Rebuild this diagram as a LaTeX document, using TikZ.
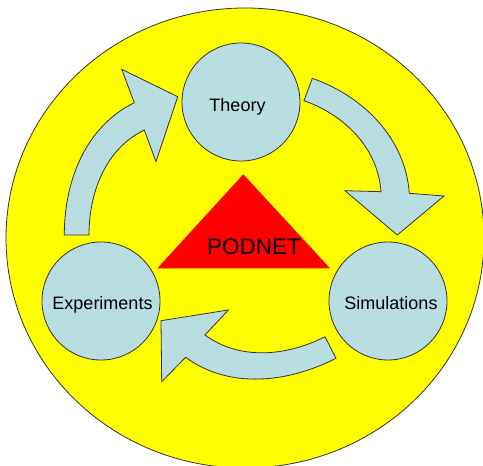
\documentclass[tikz,border=0pt]{standalone}
\usepackage{fontspec}
\setmainfont{Liberation Sans}
\definecolor{bgyellow}{RGB}{255,255,0}
\definecolor{pale}{RGB}{185,222,226}
\definecolor{podred}{RGB}{255,0,0}
\begin{document}
\begin{tikzpicture}[x=1pt,y=-1pt,
  outline/.style={draw=black!80, line width=0.8pt},
  stage/.style={circle, outline, fill=pale, minimum size=118pt, inner sep=0pt},
  blockarrow/.style={outline, fill=pale, line join=miter},
  lbl/.style={font=\fontsize{18}{18}\selectfont, anchor=base, inner sep=0pt},
  biglbl/.style={font=\fontsize{22.5}{22.5}\selectfont, anchor=base, inner sep=0pt}]
\useasboundingbox (0,0) rectangle (483,466);
% background disc
\draw[outline, fill=bgyellow] (245,238) ellipse [x radius=239, y radius=230];
% central triangle
\fill[podred] (243.3,174.3) -- (330,268.3) -- (157.3,268.3) -- cycle;
\node[biglbl] (podnet) at (254,254.3) {PODNET};
% stages
\node[stage] (theory) at (241,102) {};
\node[stage] (exper) at (101,301) {};
\node[stage] (simul) at (388,301) {};
\node[lbl] (theorylbl) at (237.5,111) {Theory};
\node[lbl] (experlbl) at (102.5,309.3) {Experiments};
\node[lbl] (simullbl) at (391,309.3) {Simulations};
% arrow Experiments -> Theory
\draw[blockarrow] (64.3,235) .. controls (64.3,181) and (85.4,126.8) .. (134.3,102.7)
  -- (121.7,69.3) -- (177.7,96.7) -- (156,161.7) -- (144.3,130)
  .. controls (105.6,148.8) and (89,192.3) .. (89,235) -- cycle;
% arrow Theory -> Simulations
\draw[blockarrow] (312.3,78.3) .. controls (363.7,96.4) and (405.5,138.6) .. (409.3,193.3)
  -- (444,196) -- (397.3,235) -- (345,190.7) -- (381,191.7)
  .. controls (378,148.3) and (344.8,115) .. (304,100.7) -- cycle;
% arrow Simulations -> Experiments
\draw[blockarrow] (336,358.3) .. controls (287.8,382.9) and (229.2,389.4) .. (185.7,357.3)
  -- (161.7,381.7) -- (161,320.7) -- (228.3,310) -- (205,335)
  .. controls (239.8,360.6) and (286.5,356.3) .. (325,336.7) -- cycle;
\end{tikzpicture}
\end{document}
